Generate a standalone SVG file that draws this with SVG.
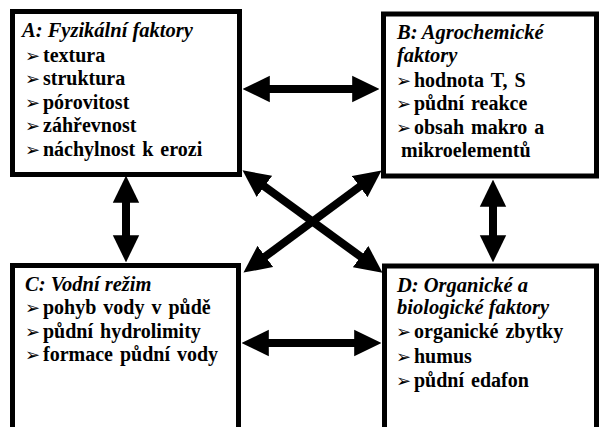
<svg xmlns="http://www.w3.org/2000/svg" width="599" height="427" viewBox="0 0 599 427">
<style>
.box{fill:#fff;stroke:#000;stroke-width:5}
.t{font-family:'Liberation Serif','Times New Roman',Times,serif;font-size:20px;font-weight:bold;fill:#000;word-spacing:2px}
.h{font-style:italic;font-size:20.5px;word-spacing:0}
.b{font-family:'DejaVu Sans',sans-serif;font-size:18px;font-weight:normal}
.arr{stroke:#000;stroke-width:8;fill:none;marker-start:url(#ah);marker-end:url(#ah)}
</style>
<defs>
<marker id="ah" markerUnits="strokeWidth" viewBox="0 -1.7 3.4 3.4" refX="0.1" refY="0" markerWidth="3.4" markerHeight="3.4" orient="auto-start-reverse">
<path d="M0,-1.65 L3.4,0 L0,1.65 Z" fill="#000"/>
</marker>
</defs>
<rect width="599" height="427" fill="#fff"/>
<g id="nodeA">
<rect class="box" x="12.5" y="11.5" width="227" height="163"/>
<text class="t h" x="22" y="37">A: Fyzikální faktory</text>
<text class="t" x="25" y="62"><tspan class="b">➢</tspan><tspan x="43">textura</tspan></text>
<text class="t" x="25" y="85"><tspan class="b">➢</tspan><tspan x="43">struktura</tspan></text>
<text class="t" x="25" y="109"><tspan class="b">➢</tspan><tspan x="43">pórovitost</tspan></text>
<text class="t" x="25" y="132"><tspan class="b">➢</tspan><tspan x="43">záhřevnost</tspan></text>
<text class="t" x="25" y="156"><tspan class="b">➢</tspan><tspan x="43">náchylnost k erozi</tspan></text>
</g>
<g id="nodeB">
<rect class="box" x="383.5" y="14" width="213" height="162"/>
<text class="t h" x="397" y="39">B: Agrochemické</text>
<text class="t h" x="397" y="62">faktory</text>
<text class="t" x="396" y="87"><tspan class="b">➢</tspan><tspan x="414">hodnota T, S</tspan></text>
<text class="t" x="396" y="110"><tspan class="b">➢</tspan><tspan x="414">půdní reakce</tspan></text>
<text class="t" x="396" y="134"><tspan class="b">➢</tspan><tspan x="414">obsah makro a</tspan></text>
<text class="t" x="401" y="157">mikroelementů</text>
</g>
<g id="nodeC">
<rect class="box" x="12.5" y="265.5" width="226" height="170"/>
<text class="t h" x="25" y="291">C: Vodní režim</text>
<text class="t" x="25" y="314"><tspan class="b">➢</tspan><tspan x="43">pohyb vody v půdě</tspan></text>
<text class="t" x="25" y="338"><tspan class="b">➢</tspan><tspan x="43">půdní hydrolimity</tspan></text>
<text class="t" x="25" y="361"><tspan class="b">➢</tspan><tspan x="43">formace půdní vody</tspan></text>
</g>
<g id="nodeD">
<rect class="box" x="384.5" y="266" width="212" height="170"/>
<text class="t h" x="397" y="292">D: Organické a</text>
<text class="t h" x="397" y="314">biologické faktory</text>
<text class="t" x="396" y="338"><tspan class="b">➢</tspan><tspan x="414">organické zbytky</tspan></text>
<text class="t" x="396" y="363"><tspan class="b">➢</tspan><tspan x="414">humus</tspan></text>
<text class="t" x="396" y="387"><tspan class="b">➢</tspan><tspan x="414">půdní edafon</tspan></text>
</g>
<g id="connectors">
<line class="arr" x1="269" y1="89" x2="353" y2="89"/>
<line class="arr" x1="268" y1="343" x2="355" y2="343"/>
<line class="arr" x1="126" y1="202" x2="126" y2="236"/>
<line class="arr" x1="493" y1="206" x2="493" y2="236"/>
<line class="arr" x1="263.8" y1="185.9" x2="361.2" y2="257.1"/>
<line class="arr" x1="360.3" y1="186.1" x2="264.7" y2="256.9"/>
</g>
</svg>
